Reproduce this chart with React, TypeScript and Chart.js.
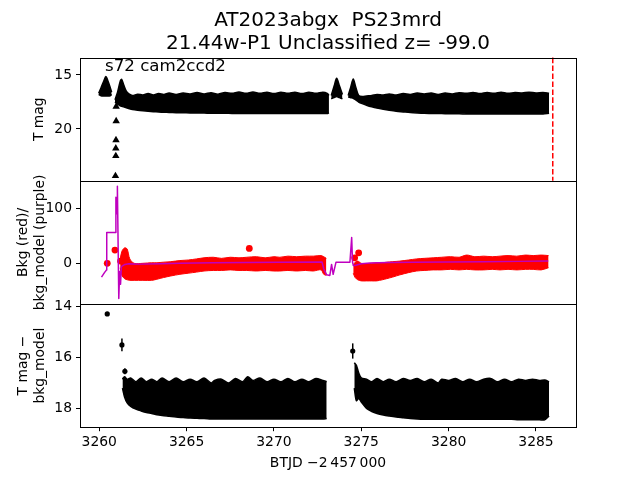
import React, { useEffect, useRef } from "react";
import { Chart, registerables } from "chart.js";

Chart.register(...registerables);

const FONT = "'DejaVu Sans', 'Liberation Sans', sans-serif";

// ---------- text ----------
const TITLE_LINES = ["AT2023abgx  PS23mrd", "21.44w-P1 Unclassified z= -99.0"];
const FIELD_LABEL = "s72 cam2ccd2";
const FIELD_LABEL_T = 3260.33;
const FIELD_LABEL_MAG = 14.63;
const DISCOVERY_T = 3285.96;
const X_LABEL = "BTJD \u22122\u2009457\u2009000";
const MAG_LABEL = "T mag";
const BKG_LABEL = ["Bkg (red)/", "bkg_model (purple)"];
const DIFF_LABEL = ["T mag \u2212", "bkg_model"];

// ---------- axes ----------
const X_MIN = 3258.9;
const X_MAX = 3287.29;
const X_TICKS = [3260, 3265, 3270, 3275, 3280, 3285];
const MAG_RANGE = [13.39, 24.8];
const MAG_TICKS = [15, 20];
const BKG_RANGE = [-74, 150];
const BKG_TICKS = [0, 100];
const DIFF_RANGE = [13.89, 18.74];
const DIFF_TICKS = [14, 16, 18];

// ---------- panel 1: T mag (envelopes of the dense point cloud) ----------
const MAG_BLOB1_T = [3259.97, 3260.1, 3260.25, 3260.38, 3260.5, 3260.62, 3260.71];
const MAG_BLOB1_HI = [16.7, 16.2, 15.6, 15.15, 15.55, 16.1, 16.6];
const MAG_BLOB1_LO = [16.8, 16.92, 16.95, 16.95, 16.95, 16.92, 16.8];

const MAG_A_T = [3260.9, 3261.05, 3261.2, 3261.28, 3261.4, 3261.55, 3261.7, 3261.9, 3262.2, 3262.5, 3262.8, 3263.1, 3263.4, 3263.7, 3264.0, 3264.4, 3264.8, 3265.2, 3265.6, 3266.0, 3266.4, 3266.8, 3267.2, 3267.6, 3268.0, 3268.4, 3268.8, 3269.2, 3269.6, 3270.0, 3270.4, 3270.8, 3271.2, 3271.6, 3272.0, 3272.4, 3272.8, 3273.05, 3273.15];
const MAG_A_HI = [17.3, 16.6, 15.6, 15.4, 15.9, 16.5, 16.75, 16.9, 16.78, 16.85, 16.72, 16.85, 16.72, 16.8, 16.68, 16.8, 16.68, 16.75, 16.62, 16.75, 16.65, 16.78, 16.62, 16.7, 16.58, 16.7, 16.58, 16.7, 16.6, 16.72, 16.6, 16.7, 16.6, 16.72, 16.6, 16.7, 16.6, 16.7, 16.9];
const MAG_A_LO = [17.5, 17.7, 17.85, 17.9, 17.95, 18.05, 18.12, 18.2, 18.27, 18.32, 18.36, 18.4, 18.43, 18.45, 18.47, 18.49, 18.5, 18.52, 18.52, 18.53, 18.55, 18.55, 18.55, 18.56, 18.56, 18.56, 18.57, 18.57, 18.57, 18.57, 18.57, 18.57, 18.57, 18.57, 18.57, 18.57, 18.57, 18.57, 18.5];

const MAG_BLOB2_T = [3273.28, 3273.45, 3273.59, 3273.75, 3273.92];
const MAG_BLOB2_HI = [16.9, 16.0, 15.3, 16.0, 16.8];
const MAG_BLOB2_LO = [17.2, 17.1, 17.0, 17.1, 17.2];

const MAG_B_T = [3274.25, 3274.4, 3274.54, 3274.68, 3274.85, 3275.05, 3275.3, 3275.6, 3275.9, 3276.26, 3276.6, 3277.0, 3277.4, 3277.8, 3278.2, 3278.6, 3279.0, 3279.4, 3279.8, 3280.2, 3280.6, 3281.0, 3281.4, 3281.8, 3282.2, 3282.6, 3283.0, 3283.4, 3283.8, 3284.2, 3284.6, 3285.0, 3285.4, 3285.75];
const MAG_B_HI = [16.9, 16.1, 15.37, 16.1, 16.9, 17.0, 16.95, 16.9, 16.8, 16.85, 16.75, 16.85, 16.72, 16.8, 16.68, 16.75, 16.66, 16.8, 16.66, 16.75, 16.64, 16.7, 16.62, 16.72, 16.62, 16.7, 16.6, 16.7, 16.62, 16.66, 16.6, 16.66, 16.62, 16.68];
const MAG_B_LO = [17.05, 17.1, 17.15, 17.3, 17.5, 17.65, 17.8, 17.95, 18.07, 18.18, 18.27, 18.36, 18.42, 18.48, 18.52, 18.55, 18.56, 18.57, 18.58, 18.6, 18.6, 18.61, 18.61, 18.61, 18.61, 18.61, 18.61, 18.61, 18.61, 18.61, 18.61, 18.61, 18.61, 18.55];

const MAG_TRI_T = [3260.97, 3260.97, 3260.96, 3260.95, 3260.95, 3260.93];
const MAG_TRI_V = [17.93, 19.26, 21.02, 21.8, 22.5, 24.35];

// ---------- panel 2: background ----------
const RED_A_T = [3261.2, 3261.3, 3261.45, 3261.6, 3261.75, 3262.0, 3262.5, 3263.0, 3263.3, 3263.67, 3264.1, 3264.62, 3265.1, 3265.57, 3266.0, 3266.53, 3267.0, 3267.5, 3268.0, 3268.44, 3269.0, 3269.5, 3270.0, 3270.34, 3270.8, 3271.3, 3271.8, 3272.25, 3272.7, 3272.85, 3273.0];
const RED_A_HI = [8, 22, 28, 26, 8, 0, 0, 1, 1, 2, 3, 5, 6, 8, 10, 11, 9, 11, 10, 11, 12, 10, 12, 11, 13, 12, 13, 13, 14, 12, 9];
const RED_A_LO = [-8, -22, -28, -30, -31, -31, -31, -31, -29, -26, -23, -20, -18, -16, -14, -13, -13, -12, -13, -13, -14, -13, -14, -14, -13, -14, -13, -14, -12, -20, -22];

const RED_B_T = [3274.54, 3274.65, 3274.8, 3275.0, 3275.31, 3275.6, 3275.88, 3276.2, 3276.45, 3276.8, 3277.21, 3277.7, 3278.17, 3278.6, 3279.12, 3279.6, 3280.1, 3280.6, 3281.03, 3281.5, 3282.0, 3282.5, 3282.94, 3283.4, 3283.9, 3284.4, 3284.84, 3285.3, 3285.72];
const RED_B_HI = [-4, 2, 4, 0, -1, 0, 1, 1, 2, 3, 4, 6, 8, 9, 10, 11, 12, 11, 15, 12, 13, 12, 13, 14, 13, 15, 14, 15, 14];
const RED_B_LO = [-18, -26, -30, -32, -32, -32, -32, -30, -28, -25, -21, -17, -14, -13, -12, -12, -11, -12, -11, -12, -12, -11, -12, -11, -12, -11, -11, -12, -8];

const RED_DOT_T = [3260.46, 3260.9, 3261.22, 3268.59, 3274.62, 3274.85];
const RED_DOT_V = [0, 24, 4, 27, 10, 19];

const MODEL_T = [3260.13, 3260.3, 3260.42, 3260.43, 3260.94, 3260.95, 3260.96, 3260.98, 3261.0, 3261.02, 3261.04, 3261.12, 3261.17, 3261.22, 3261.27, 3261.47, 3261.7, 3262.3, 3263.5, 3264.6, 3266.5, 3268.4, 3270.3, 3272.75, 3272.85, 3273.02, 3273.2, 3273.3, 3273.39, 3273.55, 3274.35, 3274.45, 3274.5, 3274.55, 3274.64, 3275.0, 3275.5, 3276.5, 3278.0, 3280.0, 3282.0, 3284.0, 3285.7];
const MODEL_V = [-25, -17, -12, 56, 56, 75, 120, 90, 118, 100, 140, -64, -15, -38, -6, -2, -1, -1.5, -1, 0, 1, 1.5, 2, 2.5, -10, -21, -22, -2, -20, 1.8, 1.8, 47, 2, -4, -4, -1, 0.5, 1.5, 2, 2.5, 3, 3.5, 4];

// ---------- panel 3: T mag - bkg_model ----------
const DIFF_A_T = [3261.33, 3261.45, 3261.6, 3261.8, 3262.1, 3262.4, 3262.7, 3263.0, 3263.3, 3263.6, 3264.0, 3264.4, 3264.8, 3265.2, 3265.6, 3266.0, 3266.4, 3266.6, 3267.0, 3267.4, 3267.8, 3268.2, 3268.5, 3268.8, 3269.2, 3269.6, 3270.0, 3270.4, 3270.8, 3271.2, 3271.6, 3272.0, 3272.4, 3272.8, 3273.02];
const DIFF_A_HI = [16.85, 16.75, 16.85, 16.8, 16.95, 16.8, 16.95, 16.85, 16.95, 16.8, 16.95, 16.8, 16.95, 16.85, 16.95, 16.8, 17.0, 16.9, 16.85, 17.0, 16.82, 16.95, 16.75, 16.9, 16.8, 16.95, 16.85, 16.95, 16.82, 16.95, 16.85, 16.95, 16.82, 16.9, 16.95];
const DIFF_A_LO = [17.2, 17.55, 17.78, 17.92, 18.03, 18.1, 18.16, 18.2, 18.25, 18.28, 18.31, 18.34, 18.36, 18.38, 18.39, 18.4, 18.42, 18.42, 18.42, 18.42, 18.42, 18.42, 18.42, 18.42, 18.42, 18.42, 18.42, 18.42, 18.42, 18.42, 18.42, 18.42, 18.42, 18.42, 18.4];

const DIFF_B_T = [3274.6, 3274.72, 3274.85, 3275.0, 3275.3, 3275.6, 3275.9, 3276.26, 3276.6, 3277.0, 3277.4, 3277.8, 3278.2, 3278.6, 3279.0, 3279.4, 3279.6, 3280.0, 3280.4, 3280.8, 3281.2, 3281.6, 3282.0, 3282.4, 3282.8, 3283.2, 3283.6, 3284.0, 3284.4, 3284.8, 3285.2, 3285.5, 3285.75];
const DIFF_B_HI = [16.2, 16.3, 16.6, 16.8, 16.85, 16.95, 16.82, 16.95, 16.85, 16.95, 16.82, 16.9, 16.82, 16.95, 16.85, 17.0, 16.85, 16.9, 16.82, 16.95, 16.85, 16.95, 16.85, 16.82, 16.95, 16.85, 16.95, 16.85, 16.9, 16.85, 16.9, 16.88, 16.95];
const DIFF_B_LO = [17.2, 17.7, 17.6, 17.75, 18.0, 18.12, 18.2, 18.26, 18.3, 18.34, 18.37, 18.4, 18.42, 18.43, 18.43, 18.43, 18.43, 18.43, 18.43, 18.43, 18.43, 18.43, 18.43, 18.43, 18.43, 18.43, 18.43, 18.45, 18.45, 18.45, 18.45, 18.45, 18.3];

const DIFF_PT_T = [3260.46, 3261.3, 3261.47, 3274.51];
const DIFF_PT_V = [14.28, 15.5, 16.54, 15.74];
const DIFF_PT_ERR = [0.06, 0.25, 0.12, 0.3];

// ---------- helpers ----------
const pts = (xs: number[], ys: number[]) => xs.map((x, i) => ({ x, y: ys[i] }));

function band(id: string, t: number[], hi: number[], lo: number[], color: string, bw: number) {
  return [
    {
      data: pts(t, hi), yAxisID: id, borderColor: color, backgroundColor: color,
      borderWidth: bw, pointRadius: 0, fill: "+1", tension: 0.3, borderJoinStyle: "round",
    },
    {
      data: pts(t, lo), yAxisID: id, borderColor: color, backgroundColor: color,
      borderWidth: bw, pointRadius: 0, fill: false, tension: 0.3, borderJoinStyle: "round",
    },
  ];
}

function dots(id: string, t: number[], v: number[], color: string, r: number, style: string) {
  return {
    data: pts(t, v), yAxisID: id, showLine: false, pointStyle: style, pointRadius: r,
    pointBackgroundColor: color, pointBorderColor: color, pointBorderWidth: 0,
  };
}

function yAxis(range: number[], ticks: number[], reverse: boolean, title: any, titlePad: number) {
  return {
    type: "linear", position: "left", stack: "panels", stackWeight: 1, reverse,
    min: range[0], max: range[1],
    afterBuildTicks: (s: any) => { s.ticks = ticks.map((v) => ({ value: v })); },
    afterFit: (s: any) => { s.width = 80; },
    grid: { drawOnChartArea: false, drawTicks: true, tickLength: 4, color: "#000", lineWidth: 1 },
    border: { display: false },
    ticks: { color: "#000", font: { family: FONT, size: 13.9 }, padding: 4, callback: (v: any) => String(v) },
    title: { display: true, text: title, color: "#000", font: { family: FONT, size: 13.9 }, padding: { top: titlePad, bottom: 0 } },
  };
}

const decorPlugin = {
  id: "decor",
  afterDatasetsDraw(chart: any) {
    const ctx = chart.ctx;
    const xs = chart.scales.x;
    const yd = chart.scales.yDiff;
    ctx.save();
    ctx.strokeStyle = "#000";
    ctx.lineWidth = 1.5;
    DIFF_PT_T.forEach((t, i) => {
      const x = xs.getPixelForValue(t);
      ctx.beginPath();
      ctx.moveTo(x, yd.getPixelForValue(DIFF_PT_V[i] - DIFF_PT_ERR[i]));
      ctx.lineTo(x, yd.getPixelForValue(DIFF_PT_V[i] + DIFF_PT_ERR[i]));
      ctx.stroke();
    });
    ctx.restore();
  },
  afterDraw(chart: any) {
    const ctx = chart.ctx;
    const xs = chart.scales.x;
    const ym = chart.scales.yMag;
    const { left, right } = chart.chartArea;
    ctx.save();
    // discovery line
    const xd = xs.getPixelForValue(DISCOVERY_T);
    ctx.strokeStyle = "#ff0000";
    ctx.lineWidth = 1.5;
    ctx.setLineDash([5.55, 2.4]);
    ctx.beginPath();
    ctx.moveTo(xd, ym.top);
    ctx.lineTo(xd, ym.bottom);
    ctx.stroke();
    ctx.setLineDash([]);
    // frames
    ctx.strokeStyle = "#000";
    ctx.lineWidth = 1;
    ["yMag", "yBkg", "yDiff"].forEach((id) => {
      const s = chart.scales[id];
      const t = Math.round(s.top) + 0.5;
      const b = Math.round(s.bottom) + 0.5;
      ctx.strokeRect(Math.round(left) + 0.5, t, Math.round(right) - Math.round(left), b - t);
    });
    // title
    ctx.fillStyle = "#000";
    ctx.textAlign = "center";
    ctx.textBaseline = "alphabetic";
    ctx.font = `20px ${FONT}`;
    const cx = (left + right) / 2;
    ctx.fillText(TITLE_LINES[0], cx, 26);
    ctx.fillText(TITLE_LINES[1], cx, 49.3);
    // field label
    ctx.textAlign = "left";
    ctx.font = `16.67px ${FONT}`;
    ctx.fillText(FIELD_LABEL, xs.getPixelForValue(FIELD_LABEL_T), ym.getPixelForValue(FIELD_LABEL_MAG));
    ctx.restore();
  },
};

export default function App() {
  const ref = useRef<HTMLCanvasElement>(null);
  useEffect(() => {
    const canvas = ref.current;
    if (!canvas) return;
    const datasets: any[] = [
      {
        data: pts(MODEL_T, MODEL_V), yAxisID: "yBkg", borderColor: "#bf00bf", backgroundColor: "#bf00bf",
        borderWidth: 1.5, pointRadius: 0, fill: false, tension: 0, borderJoinStyle: "round",
      },
      dots("yBkg", RED_DOT_T, RED_DOT_V, "#ff0000", 3.4, "circle"),
      ...band("yBkg", RED_A_T, RED_A_HI, RED_A_LO, "#ff0000", 1),
      ...band("yBkg", RED_B_T, RED_B_HI, RED_B_LO, "#ff0000", 1),
      dots("yMag", MAG_TRI_T, MAG_TRI_V, "#000", 4.3, "triangle"),
      ...band("yMag", MAG_BLOB1_T, MAG_BLOB1_HI, MAG_BLOB1_LO, "#000", 1.5),
      ...band("yMag", MAG_A_T, MAG_A_HI, MAG_A_LO, "#000", 1.5),
      ...band("yMag", MAG_BLOB2_T, MAG_BLOB2_HI, MAG_BLOB2_LO, "#000", 1.5),
      ...band("yMag", MAG_B_T, MAG_B_HI, MAG_B_LO, "#000", 1.5),
      dots("yDiff", DIFF_PT_T, DIFF_PT_V, "#000", 2.6, "circle"),
      ...band("yDiff", DIFF_A_T, DIFF_A_HI, DIFF_A_LO, "#000", 1.5),
      ...band("yDiff", DIFF_B_T, DIFF_B_HI, DIFF_B_LO, "#000", 1.5),
    ];
    const chart = new Chart(canvas, {
      type: "line",
      data: { datasets },
      options: {
        responsive: false,
        animation: false,
        devicePixelRatio: 1,
        events: [],
        layout: { padding: { top: 57.6, right: 64, bottom: 0, left: 0 } },
        plugins: { legend: { display: false }, tooltip: { enabled: false }, title: { display: false } },
        scales: {
          x: {
            type: "linear", position: "bottom", min: X_MIN, max: X_MAX,
            afterBuildTicks: (s: any) => { s.ticks = X_TICKS.map((v) => ({ value: v })); },
            afterFit: (s: any) => { s.height = 52.8; },
            grid: { drawOnChartArea: false, drawTicks: true, tickLength: 4, color: "#000", lineWidth: 1 },
            border: { display: false },
            ticks: { color: "#000", font: { family: FONT, size: 13.9 }, padding: 3, maxRotation: 0, autoSkip: false, callback: (v: any) => String(v) },
            title: { display: true, text: X_LABEL, color: "#000", font: { family: FONT, size: 13.9 }, padding: { top: 0, bottom: 8.7 } },
          },
          yDiff: yAxis(DIFF_RANGE, DIFF_TICKS, true, DIFF_LABEL, 15),
          yBkg: yAxis(BKG_RANGE, BKG_TICKS, false, BKG_LABEL, 15),
          yMag: yAxis(MAG_RANGE, MAG_TICKS, true, MAG_LABEL, 31.5),
        },
      } as any,
      plugins: [decorPlugin],
    } as any);
    return () => chart.destroy();
  }, []);
  return (
    <div style={{ position: "fixed", left: 0, top: 0, width: 640, height: 480, background: "#fff" }}>
      <canvas ref={ref} width={640} height={480} style={{ display: "block", width: 640, height: 480 }} />
    </div>
  );
}
